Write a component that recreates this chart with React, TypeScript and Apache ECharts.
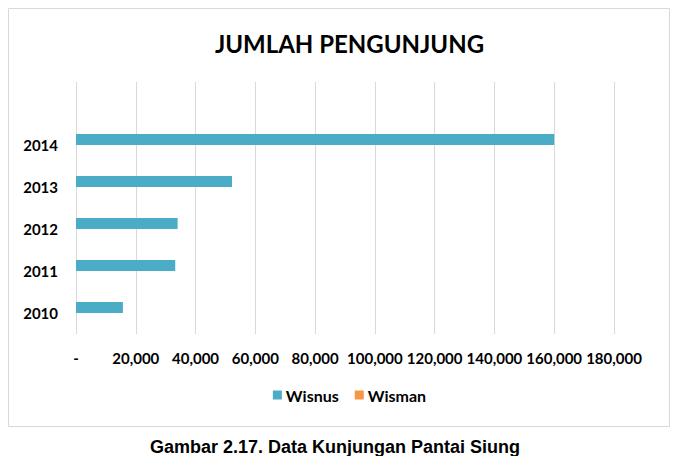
import { useEffect, useRef } from 'react';
import * as echarts from 'echarts';

const years = ['2010', '2011', '2012', '2013', '2014', ''];
const wisnus = [15700, 33200, 34000, 52200, 160000, null];
const wisman = [0, 0, 0, 0, 0, null];
const seriesNames = ['Wisnus', 'Wisman'];

const FONT = 'Lato, "Noto Sans", sans-serif';

export default function App() {
  const chartRef = useRef<HTMLDivElement>(null);

  useEffect(() => {
    if (!chartRef.current) return;
    const chart = echarts.init(chartRef.current, null, { renderer: 'svg' });

    const option = {
      animation: false,
      backgroundColor: '#fff',
      title: {
        text: 'JUMLAH PENGUNJUNG',
        left: 'center',
        top: 26,
        textStyle: { fontFamily: FONT, fontWeight: 'bold', fontSize: 24, color: '#000' }
      },
      legend: {
        data: seriesNames,
        bottom: 48,
        left: 'center',
        itemWidth: 9,
        itemHeight: 9,
        itemGap: 16,
        icon: 'rect',
        textStyle: { fontFamily: FONT, fontWeight: 'bold', fontSize: 16, color: '#000', padding: [0, 0, 0, -1] }
      },
      grid: { left: 76, right: 85, top: 82, bottom: 122, containLabel: false },
      xAxis: {
        type: 'value',
        min: 0,
        max: 180000,
        interval: 20000,
        axisLine: { show: false },
        axisTick: { show: false },
        splitLine: { lineStyle: { color: '#d9d9d9', width: 1 } },
        axisLabel: {
          margin: 16,
          fontFamily: FONT,
          fontWeight: 'bold',
          fontSize: 15,
          color: '#000',
          formatter: (v: number) => (v === 0 ? '-' : v.toLocaleString('en-US'))
        }
      },
      yAxis: {
        type: 'category',
        data: years,
        axisLine: { show: false },
        axisTick: { show: false },
        splitLine: { show: false },
        axisLabel: { margin: 18, fontFamily: FONT, fontWeight: 'bold', fontSize: 15, color: '#000' }
      },
      series: [
        {
          name: seriesNames[0],
          type: 'bar',
          data: wisnus,
          barWidth: 11,
          barGap: '0%',
          itemStyle: { color: '#4bacc6' }
        },
        {
          name: seriesNames[1],
          type: 'bar',
          data: wisman,
          barWidth: 11,
          barGap: '0%',
          itemStyle: { color: '#f79646' }
        }
      ],
      graphic: [
        {
          type: 'rect',
          shape: { x: 8.5, y: 8.5, width: 661, height: 418 },
          style: { fill: 'none', stroke: '#d9d9d9', lineWidth: 1 },
          silent: true
        },
        {
          type: 'text',
          x: 335,
          y: 438,
          style: {
            text: 'Gambar 2.17. Data Kunjungan Pantai Siung',
            fontFamily: '"Liberation Sans", Arial, sans-serif',
            fontWeight: 'bold',
            fontSize: 18,
            fill: '#000',
            textAlign: 'center',
            textVerticalAlign: 'top'
          }
        }
      ]
    };

    chart.setOption(option);
    return () => chart.dispose();
  }, []);

  return (
    <div
      ref={chartRef}
      style={{ position: 'absolute', left: 0, top: 0, width: '699px', height: '456px' }}
    />
  );
}
